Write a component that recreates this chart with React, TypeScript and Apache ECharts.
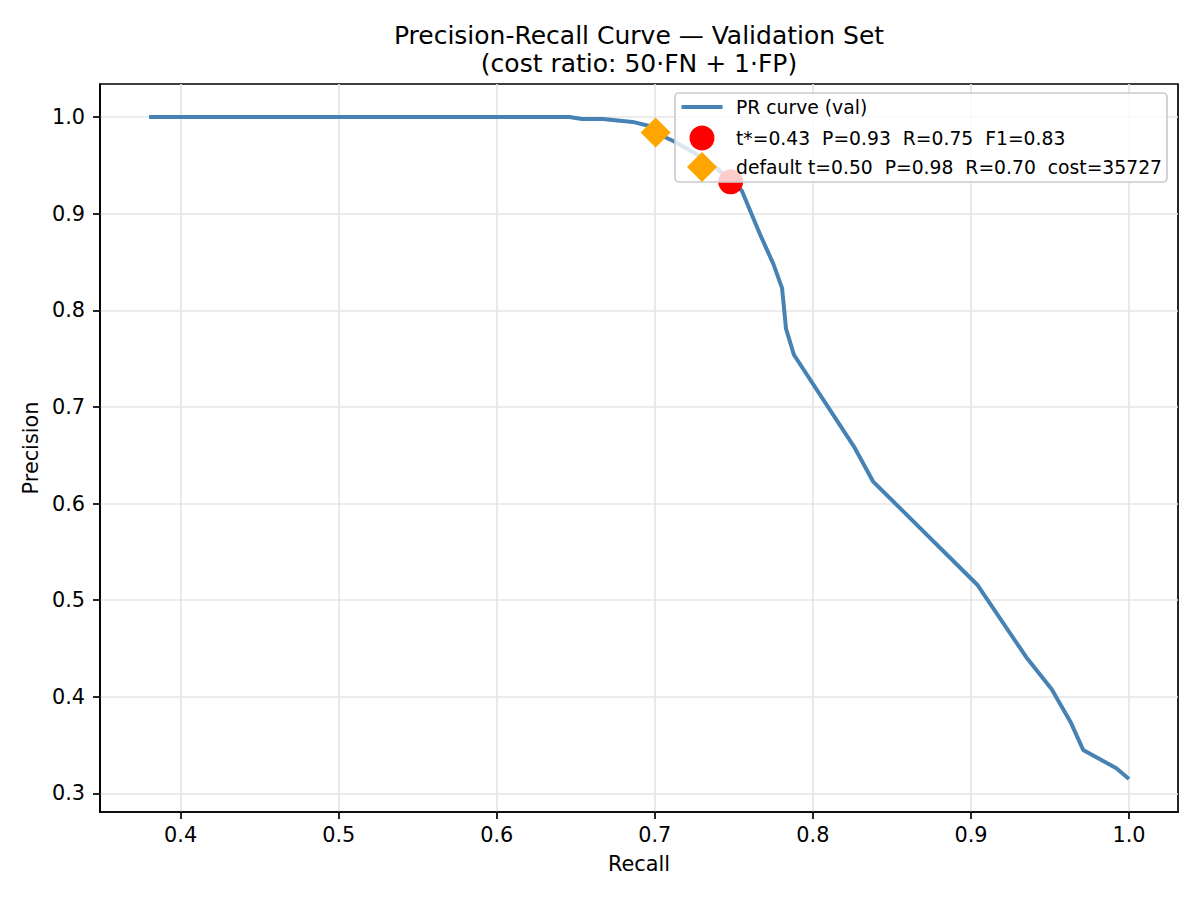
import React, { useEffect, useRef } from "react";
import * as echarts from "echarts";

// Validation precision-recall curve (recall ascending)
const recall = [
  0.38, 0.646, 0.654, 0.667, 0.686, 0.696, 0.7, 0.712, 0.725, 0.74, 0.748,
  0.755, 0.767, 0.775, 0.7805, 0.783, 0.788, 0.826, 0.838, 0.904, 0.935,
  0.951, 0.963, 0.971, 0.992, 1.0,
];
const precision = [
  1.0, 1.0, 0.998, 0.998, 0.995, 0.991, 0.984, 0.975, 0.963, 0.946, 0.933,
  0.924, 0.877, 0.848, 0.823, 0.781, 0.754, 0.659, 0.623, 0.516, 0.441,
  0.408, 0.374, 0.345, 0.326, 0.315,
];

// Cost-optimal threshold and default threshold operating points
const bestThreshold = 0.43;
const bestPoint = { recall: 0.748, precision: 0.933 };
const defaultThreshold = 0.5;
const defaultPoint = { recall: 0.7005, precision: 0.984 };
const defaultCost = 35727;

const xTicks = [0.4, 0.5, 0.6, 0.7, 0.8, 0.9, 1.0];
const yTicks = [0.3, 0.4, 0.5, 0.6, 0.7, 0.8, 0.9, 1.0];

const FONT = "DejaVu Sans";

export default function App() {
  const ref = useRef<HTMLDivElement>(null);

  useEffect(() => {
    if (!ref.current) return;
    const chart = echarts.init(ref.current, undefined, { renderer: "svg" });

    const f1 =
      (2 * bestPoint.precision * bestPoint.recall) /
      (bestPoint.precision + bestPoint.recall);

    const curveName = "PR curve (val)";
    const bestName = `t*=${bestThreshold.toFixed(2)}  P=${bestPoint.precision.toFixed(2)}  R=${bestPoint.recall.toFixed(2)}  F1=${f1.toFixed(2)}`;
    const defaultName = `default t=${defaultThreshold.toFixed(2)}  P=${defaultPoint.precision.toFixed(2)}  R=${defaultPoint.recall.toFixed(2)}  cost=${defaultCost}`;

    // matplotlib-style 5% margins around the data extent
    const xr = Math.max(...recall) - Math.min(...recall);
    const yr = Math.max(...precision) - Math.min(...precision);
    const xMin = Math.min(...recall) - 0.05 * xr;
    const xMax = Math.max(...recall) + 0.05 * xr;
    const yMin = Math.min(...precision) - 0.05 * yr;
    const yMax = Math.max(...precision) + 0.05 * yr;

    const legendText = (padLeft: number) => ({
      fontFamily: FONT,
      fontSize: 18.75,
      color: "#000",
      lineHeight: 22,
      padding: [0, 0, 0, padLeft],
    });

    const tickLabel = {
      fontFamily: FONT,
      fontSize: 20.8,
      color: "#000",
    };

    // legend rows: icon centre x = 702, text starts at x = 736
    const iconCx = 702;
    const textX = 736;
    const legendRow = (
      name: string,
      icon: string,
      w: number,
      h: number,
      centerY: number
    ) => {
      const left = iconCx - w / 2;
      return {
        data: [{ name, icon }],
        left,
        top: centerY - Math.max(h, 22) / 2,
        padding: 0,
        orient: "vertical",
        itemWidth: w,
        itemHeight: h,
        symbolKeepAspect: true,
        textStyle: legendText(textX - (left + w + 5)),
        selectedMode: false,
      };
    };

    chart.setOption({
      animation: false,
      backgroundColor: "#fff",
      title: {
        text: "Precision-Recall Curve — Validation Set\n(cost ratio: 50·FN + 1·FP)",
        left: 639,
        top: 21,
        padding: 0,
        textAlign: "center",
        textStyle: {
          fontFamily: FONT,
          fontSize: 25,
          fontWeight: "normal",
          color: "#000",
          lineHeight: 28.5,
        },
      },
      grid: {
        left: 100,
        right: 22,
        top: 84,
        bottom: 88,
        show: true,
        borderColor: "#000",
        borderWidth: 1.7,
        backgroundColor: "transparent",
      },
      xAxis: {
        type: "value",
        min: xMin,
        max: xMax,
        name: "Recall",
        nameLocation: "middle",
        nameGap: 41,
        nameTextStyle: { ...tickLabel },
        axisLine: { show: true, lineStyle: { color: "#000", width: 1.7 } },
        axisTick: {
          show: true,
          customValues: xTicks,
          length: 7,
          lineStyle: { color: "#000", width: 1.7 },
        },
        axisLabel: {
          customValues: xTicks,
          margin: 12,
          formatter: (v: number) => v.toFixed(1),
          ...tickLabel,
        },
        splitLine: {
          show: true,
          lineStyle: { color: "#e6e6e6", width: 1.7 },
        },
      },
      yAxis: {
        type: "value",
        min: yMin,
        max: yMax,
        name: "Precision",
        nameLocation: "middle",
        nameGap: 53,
        nameTextStyle: { ...tickLabel },
        axisLine: { show: true, lineStyle: { color: "#000", width: 1.7 } },
        axisTick: {
          show: true,
          customValues: yTicks,
          length: 7,
          lineStyle: { color: "#000", width: 1.7 },
        },
        axisLabel: {
          customValues: yTicks,
          margin: 15,
          formatter: (v: number) => v.toFixed(1),
          ...tickLabel,
        },
        splitLine: {
          show: true,
          lineStyle: { color: "#e6e6e6", width: 1.7 },
        },
      },
      legend: [
        legendRow(curveName, "path://M0,0L41,0L41,4L0,4Z", 41, 14, 107),
        legendRow(bestName, "circle", 25, 25, 138),
        legendRow(defaultName, "diamond", 30, 30, 167),
      ],
      graphic: [
        {
          type: "rect",
          silent: true,
          z: 3,
          shape: { x: 675, y: 93, width: 492, height: 89, r: 4 },
          style: {
            fill: "rgba(255,255,255,0.8)",
            stroke: "#cccccc",
            lineWidth: 1.7,
          },
        },
      ],
      series: [
        {
          name: curveName,
          type: "line",
          data: recall.map((r, i) => [r, precision[i]]),
          symbol: "none",
          showSymbol: false,
          lineStyle: { color: "#4682b4", width: 4 },
          itemStyle: { color: "#4682b4" },
          z: 2,
        },
        {
          name: bestName,
          type: "scatter",
          data: [[bestPoint.recall, bestPoint.precision]],
          symbol: "circle",
          symbolSize: 25,
          itemStyle: { color: "#ff0000", opacity: 1 },
          z: 2,
        },
        {
          name: defaultName,
          type: "scatter",
          data: [[defaultPoint.recall, defaultPoint.precision]],
          symbol: "diamond",
          symbolSize: 30,
          itemStyle: { color: "#ffa500", opacity: 1 },
          z: 2,
        },
      ],
    });

    return () => chart.dispose();
  }, []);

  return (
    <div
      ref={ref}
      style={{ width: 1200, height: 900, position: "absolute", left: 0, top: 0 }}
    />
  );
}
